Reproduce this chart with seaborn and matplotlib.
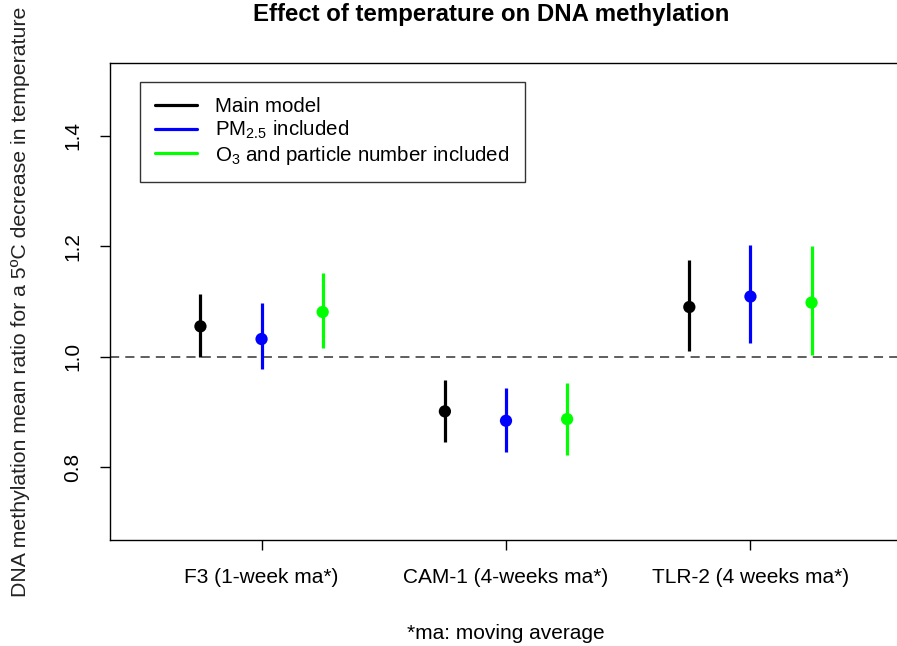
import matplotlib
matplotlib.use("Agg")
import matplotlib.pyplot as plt
import seaborn as sns
import pandas as pd
import numpy as np
from matplotlib.lines import Line2D

sns.set_theme(style="white")
plt.rcParams['font.family'] = ['Liberation Sans', 'DejaVu Sans']
plt.rcParams['mathtext.fontset'] = 'custom'
plt.rcParams['mathtext.rm'] = 'Liberation Sans'
plt.rcParams['mathtext.it'] = 'Liberation Sans'
for k in ['text.color', 'axes.labelcolor', 'xtick.color', 'ytick.color']:
    plt.rcParams[k] = 'black'

# ---- data ----
genes = ["F3 (1-week ma*)", "CAM-1 (4-weeks ma*)", "TLR-2 (4 weeks ma*)"]
models = ["Main model", r"PM$_{2.5}$ included", r"O$_3$ and particle number included"]
colors = ["#000000", "#0000FF", "#00FF00"]
estimate = [[1.055, 1.032, 1.081],
            [0.901, 0.884, 0.887],
            [1.090, 1.109, 1.098]]
lower = [[1.000, 0.978, 1.015],
         [0.846, 0.827, 0.822],
         [1.011, 1.024, 1.003]]
upper = [[1.114, 1.098, 1.151],
         [0.958, 0.943, 0.953],
         [1.176, 1.203, 1.201]]
yticks = [0.8, 1.0, 1.2, 1.4]
yticklabels = ["0.8", "1.0", "1.2", "1.4"]

rows = []
for g, gene in enumerate(genes):
    for m, model in enumerate(models):
        rows.append(dict(gene=gene, model=model, pos=1 + 4 * g + m,
                         est=estimate[g][m], lo=lower[g][m], hi=upper[g][m]))
df = pd.DataFrame(rows)

W, H = 897, 646
fig = plt.figure(figsize=(W / 100, H / 100), dpi=100)
ax = fig.add_axes([110 / W, 1 - 540 / H, (902 - 110) / W, (540 - 63) / H])

ax.axhline(1.0, color="#333333", lw=1.1, ls=(0, (6, 4)), zorder=1)
for m, model in enumerate(models):
    sub = df[df.model == model]
    ax.vlines(sub.pos, sub.lo, sub.hi, color=colors[m], lw=2.3, zorder=2)
sns.scatterplot(data=df, x="pos", y="est", hue="model", palette=colors,
                s=78, edgecolor="none", legend=False, ax=ax, zorder=3)

ax.set_xlim(-0.48, 12.48)
ax.set_ylim(0.668, 1.532)
ax.set_xticks([2, 6, 10])
ax.set_xticklabels(genes, fontsize=15)
ax.set_yticks(yticks)
ax.set_yticklabels(yticklabels, fontsize=15, rotation=90, va="center")
ax.tick_params(axis="both", direction="out", length=7, width=1, color="black",
               left=True, bottom=True)
ax.tick_params(axis="y", pad=13)
ax.tick_params(axis="x", pad=13)
for s in ax.spines.values():
    s.set_color("black")
    s.set_linewidth(1.0)

ax.set_xlabel("*ma: moving average", fontsize=15, labelpad=27)
ax.set_ylabel("DNA methylation mean ratio for a 5ºC decrease in temperature",
              fontsize=15.3, labelpad=24, color="#222222")
fig.text(491 / W, 1 - 14 / H, "Effect of temperature on DNA methylation",
         fontsize=17.3, fontweight="bold", ha="center", va="center")

handles = [Line2D([0], [0], color=c, lw=2.3) for c in colors]
leg = ax.legend(handles, models, loc="upper left", bbox_to_anchor=(30 / 792, 1 - 19 / 477),
                fontsize=14.8, frameon=True, fancybox=False, handlelength=2.0,
                handletextpad=0.9, labelspacing=0.12, borderpad=0.75, borderaxespad=0)
leg.get_frame().set_edgecolor("black")
leg.get_frame().set_linewidth(1.0)

fig.savefig("out.png", dpi=100)
